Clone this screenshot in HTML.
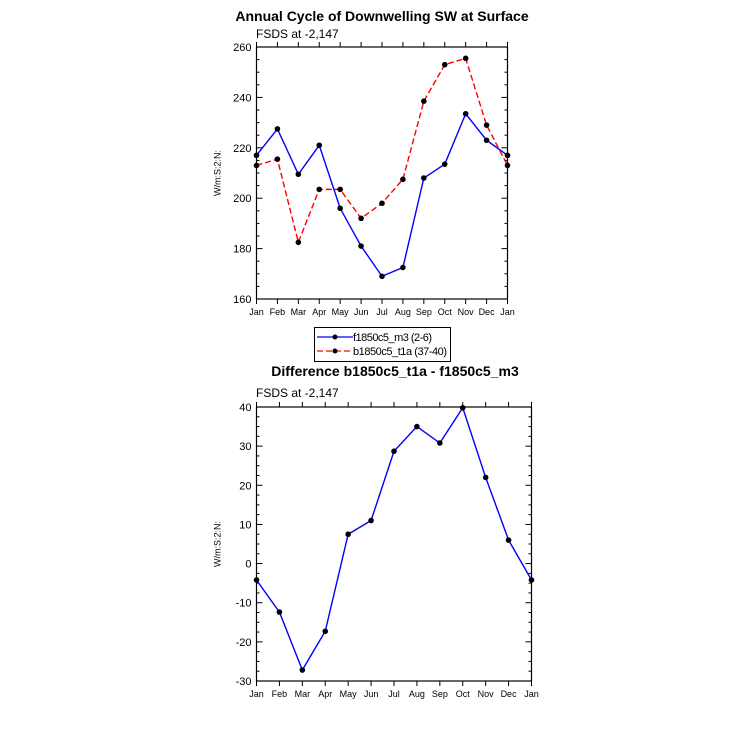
<!DOCTYPE html>
<html><head><meta charset="utf-8"><style>
body{margin:0;background:#fff;font-family:"Liberation Sans",sans-serif}
</style></head><body>
<svg id="s" width="730" height="730" xmlns="http://www.w3.org/2000/svg" font-family="Liberation Sans, sans-serif">
<text x="382" y="21" text-anchor="middle" font-size="14" font-weight="bold">Annual Cycle of Downwelling SW at Surface</text>
<text x="256" y="38" font-size="12">FSDS at -2,147</text>
<text x="395" y="376" text-anchor="middle" font-size="14" font-weight="bold">Difference b1850c5_t1a - f1850c5_m3</text>
<text x="256" y="397" font-size="12">FSDS at -2,147</text>
<g>
<rect x="314.5" y="327.5" width="136" height="34" fill="#fff" stroke="#000" stroke-width="1"/>
<g><line x1="317" y1="337" x2="353" y2="337" stroke="#0000ff" stroke-width="1.3"/><circle cx="335" cy="337" r="2.5"/><text x="353" y="341" font-size="11" textLength="79">f1850c5_m3 (2-6)</text></g>
<g><line x1="317" y1="351" x2="353" y2="351" stroke="#ff0000" stroke-width="1.3" stroke-dasharray="6,3"/><circle cx="335" cy="351" r="2.5"/><text x="353" y="355" font-size="11" textLength="94">b1850c5_t1a (37-40)</text></g>
</g>
</svg>
<script>
const months=["Jan","Feb","Mar","Apr","May","Jun","Jul","Aug","Sep","Oct","Nov","Dec","Jan"];
const f1850=[217,227.5,209.5,221,196,181,169,172.5,208,213.5,233.5,223,217];
const b1850=[213,215.5,182.5,203.5,203.5,192,198,207.5,238.5,253,255.5,229,213];
const diff=[-4.2,-12.4,-27.2,-17.3,7.5,11,28.7,35,30.8,39.8,22,6,-4.2];
const topTicks=[160,180,200,220,240,260];
const botTicks=[-30,-20,-10,0,10,20,30,40];
const NS="http://www.w3.org/2000/svg",svg=document.getElementById('s');
function mk(t,a,p){const e=document.createElementNS(NS,t);for(const k in a)e.setAttribute(k,a[k]);(p||svg).appendChild(e);return e;}
function panel(name,L,R,T,B,ymin,ymax,ticks,series){
 const g=mk('g',{});
 
 
 const xs=i=>L+(R-L)*i/(months.length-1), ys=v=>B-(B-T)*(v-ymin)/(ymax-ymin);
 mk('rect',{x:L,y:T,width:R-L,height:B-T,fill:'none',stroke:'#000','stroke-width':1.2},g);
 for(let v=ymin;v<=ymax+1e-9;v+=(ticks[1]-ticks[0])/4){const y=ys(v);const maj=ticks.some(t=>Math.abs(t-v)<1e-6);const l=maj?6:3;
  mk('line',{x1:L,x2:L+l,y1:y,y2:y,stroke:'#000','stroke-width':1},g);mk('line',{x1:R,x2:R-l,y1:y,y2:y,stroke:'#000','stroke-width':1},g);}
 ticks.forEach(v=>{const t=mk('text',{x:L-5,y:ys(v)+4,'text-anchor':'end','font-size':11},g);t.textContent=v;
  
  });
 months.forEach((m,i)=>{const x=xs(i);mk('line',{x1:x,x2:x,y1:B,y2:B+5,stroke:'#000'},g);mk('line',{x1:x,x2:x,y1:T,y2:T-5,stroke:'#000'},g);
  const t=mk('text',{x:x,y:B+16,'text-anchor':'middle','font-size':9},g);t.textContent=m;
  
  });
 const yl=mk('text',{x:0,y:0,'text-anchor':'middle','font-size':9,transform:`translate(${L-36},${(T+B)/2}) rotate(-90)`},g);yl.textContent='W/m:S:2:N:';
 
 
 series.forEach(s=>{const sg=mk('g',{},g);
  
  
  mk('polyline',{points:s.d.map((v,i)=>xs(i)+','+ys(v)).join(' '),fill:'none',stroke:s.c,'stroke-width':1.4,'stroke-dasharray':s.dash||'none'},sg);
  s.d.forEach((v,i)=>mk('circle',{cx:xs(i),cy:ys(v),r:2.8,fill:'#000'},sg));});
}
panel('top-chart',256.5,507.5,47,299,160,260,topTicks,[{name:'series-f1850c5',d:f1850,c:'#0000ff'},{name:'series-b1850c5',d:b1850,c:'#ff0000',dash:'6,3'}]);
panel('bottom-chart',256.5,531.5,407,681,-30,40,botTicks,[{name:'series-difference',d:diff,c:'#0000ff'}]);
</script>
</body></html>
